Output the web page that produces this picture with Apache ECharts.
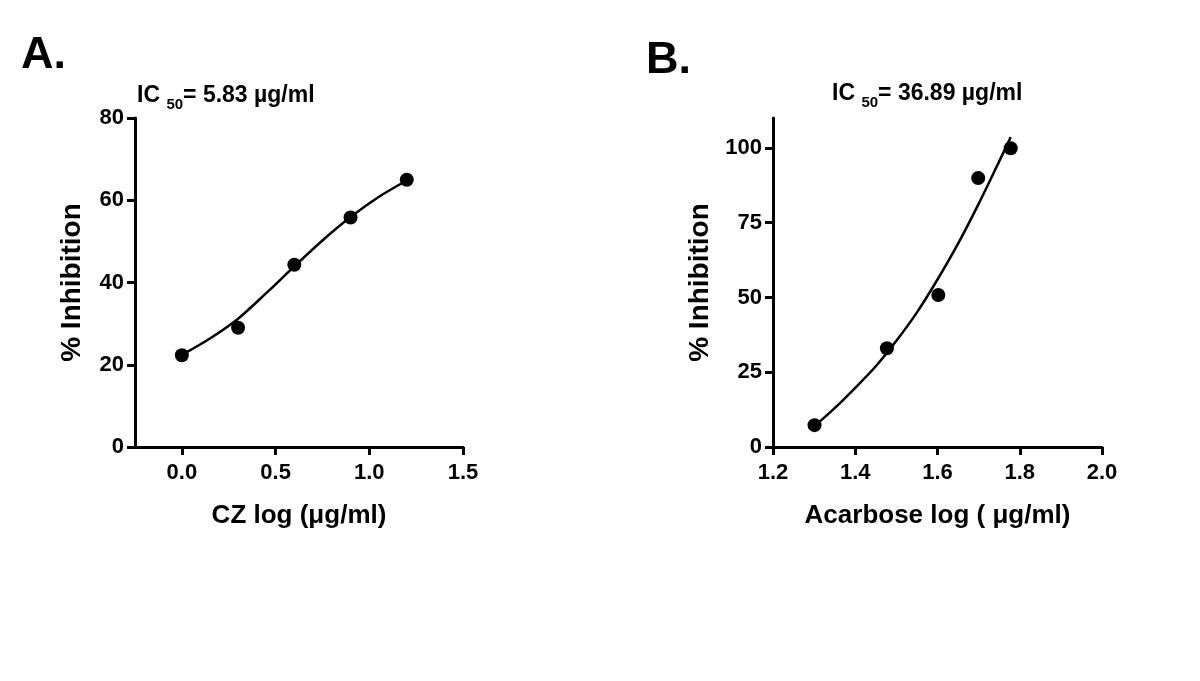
<!DOCTYPE html>
<html>
<head>
<meta charset="utf-8">
<script src="https://cdn.jsdelivr.net/npm/echarts@6/dist/echarts.min.js"></script>
<style>
html,body{margin:0;padding:0;background:#fff;}
#chart{width:1200px;height:681px;}
</style>
</head>
<body>
<div id="chart"></div>
<script>
// Panel A data (CZ)
const czLogX = [0.0, 0.3, 0.6, 0.9, 1.2];
const czInhibition = [22.3, 29.0, 44.3, 55.8, 65.0];
const czCurveX = [0.0, 0.15, 0.3, 0.45, 0.6, 0.75, 0.9, 1.05, 1.2];
const czCurveY = [22.4, 26.4, 31.2, 37.4, 43.9, 50.2, 55.9, 60.8, 64.8];
const czXTicks = [0.0, 0.5, 1.0, 1.5];

// Panel B data (Acarbose)
const acLogX = [1.301, 1.477, 1.602, 1.699, 1.778];
const acInhibition = [7.3, 33.0, 50.8, 89.9, 99.9];
const acCurveX = [1.301, 1.35, 1.40, 1.45, 1.50, 1.55, 1.60, 1.65, 1.70, 1.75, 1.778];
const acCurveY = [7.0, 13.0, 19.8, 27.0, 35.5, 45.0, 56.0, 68.0, 81.3, 95.5, 103.6];
const acYTicks = [0, 25, 50, 75, 100];

const FONT = '"Liberation Sans", Arial, sans-serif';
const pair = (xs, ys) => xs.map((x, i) => [x, ys[i]]);

const axisLine = {show: true, onZero: false, lineStyle: {color: '#000', width: 3}};
const tickStyle = {lineStyle: {color: '#000', width: 3}, length: 8};
const labelStyle = {color: '#000', fontFamily: FONT, fontWeight: 'bold', fontSize: 22};
const nameStyle = {color: '#000', fontFamily: FONT, fontWeight: 'bold'};

const icRich = {
  a: {fontFamily: FONT, fontWeight: 'bold', fontSize: 23, color: '#000', lineHeight: 28},
  s: {fontFamily: FONT, fontWeight: 'bold', fontSize: 15, color: '#000', lineHeight: 14, padding: [15, 0, 0, 0], verticalAlign: 'top'}
};

const chart = echarts.init(document.getElementById('chart'), null, {renderer: 'canvas'});
chart.setOption({
  backgroundColor: '#fff',
  animation: false,
  title: [
    {text: 'A.', left: 16, top: 28, textStyle: {fontFamily: FONT, fontWeight: 'bold', fontSize: 45, color: '#000'}},
    {text: 'B.', left: 641, top: 33, textStyle: {fontFamily: FONT, fontWeight: 'bold', fontSize: 45, color: '#000'}},
    {text: '{a|IC }{s|50}{a|= 5.83 µg/ml}', left: 132, top: 77, textStyle: {rich: icRich}},
    {text: '{a|IC }{s|50}{a|= 36.89 µg/ml}', left: 827, top: 75, textStyle: {rich: icRich}}
  ],
  grid: [
    {left: 135, top: 118, width: 328, height: 329},
    {left: 773, top: 118, width: 329, height: 329}
  ],
  xAxis: [
    {
      gridIndex: 0, type: 'value', min: -0.25, max: 1.5,
      axisLine: axisLine,
      axisTick: Object.assign({customValues: czXTicks}, tickStyle),
      axisLabel: Object.assign({customValues: czXTicks, margin: 15, formatter: v => v.toFixed(1)}, labelStyle),
      splitLine: {show: false},
      name: 'CZ log (μg/ml)', nameLocation: 'middle', nameGap: 56,
      nameTextStyle: Object.assign({fontSize: 26}, nameStyle)
    },
    {
      gridIndex: 1, type: 'value', min: 1.2, max: 2.0, interval: 0.2,
      axisLine: axisLine,
      axisTick: tickStyle,
      axisLabel: Object.assign({margin: 15, formatter: v => v.toFixed(1)}, labelStyle),
      splitLine: {show: false},
      name: 'Acarbose log ( μg/ml)', nameLocation: 'middle', nameGap: 56,
      nameTextStyle: Object.assign({fontSize: 26}, nameStyle)
    }
  ],
  yAxis: [
    {
      gridIndex: 0, type: 'value', min: 0, max: 80, interval: 20,
      axisLine: axisLine,
      axisTick: tickStyle,
      axisLabel: Object.assign({margin: 11}, labelStyle),
      splitLine: {show: false},
      name: '% Inhibition', nameLocation: 'middle', nameGap: 49,
      nameTextStyle: Object.assign({fontSize: 28}, nameStyle)
    },
    {
      gridIndex: 1, type: 'value', min: 0, max: 110,
      axisLine: axisLine,
      axisTick: Object.assign({customValues: acYTicks}, tickStyle),
      axisLabel: Object.assign({customValues: acYTicks, margin: 11}, labelStyle),
      splitLine: {show: false},
      name: '% Inhibition', nameLocation: 'middle', nameGap: 59,
      nameTextStyle: Object.assign({fontSize: 28}, nameStyle)
    }
  ],
  series: [
    {type: 'line', xAxisIndex: 0, yAxisIndex: 0, data: pair(czCurveX, czCurveY), smooth: 0.3, showSymbol: false,
      lineStyle: {color: '#000', width: 2.5}, silent: true},
    {type: 'scatter', xAxisIndex: 0, yAxisIndex: 0, data: pair(czLogX, czInhibition), symbolSize: 14,
      itemStyle: {color: '#000', opacity: 1}},
    {type: 'line', xAxisIndex: 1, yAxisIndex: 1, data: pair(acCurveX, acCurveY), smooth: 0.3, showSymbol: false,
      lineStyle: {color: '#000', width: 2.5}, silent: true},
    {type: 'scatter', xAxisIndex: 1, yAxisIndex: 1, data: pair(acLogX, acInhibition), symbolSize: 14,
      itemStyle: {color: '#000', opacity: 1}}
  ]
});
</script>
</body>
</html>
